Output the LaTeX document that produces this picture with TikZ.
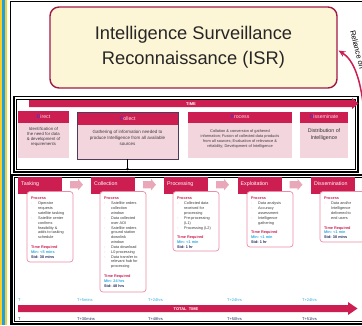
\documentclass[tikz,border=0pt]{standalone}
\usepackage{fontspec}
\setmainfont{Liberation Sans}
\usetikzlibrary{arrows.meta,calc}
\definecolor{crim}{RGB}{205,30,82}
\definecolor{crimd}{RGB}{160,25,70}
\definecolor{pinkbg}{RGB}{243,213,222}
\definecolor{pinkar}{RGB}{233,168,185}
\definecolor{pinkbd}{RGB}{236,140,168}
\definecolor{hdtxt}{RGB}{250,220,230}
\definecolor{cream}{RGB}{253,246,214}
\definecolor{cyanT}{RGB}{40,170,225}
\definecolor{navy}{RGB}{30,40,90}
\definecolor{txt}{RGB}{60,60,60}
\definecolor{purp}{RGB}{95,45,175}
\definecolor{ylw}{RGB}{250,205,40}
\definecolor{blu}{RGB}{30,160,230}
\definecolor{darkbd}{RGB}{80,60,90}
\newcommand\bu{\makebox[7pt][l]{\textcolor{pinkbd}{-}}}
\newcommand\cn{\hspace*{7pt}}
\newcommand\ptx[1]{\parbox[t]{44pt}{\raggedright\fontsize{3.8}{4.85}\selectfont\color{txt}#1}}
\newcommand\prc{{\color{crim}\bfseries Process}}
\newcommand\treq[2]{\\[4.85pt]{\color{crim}\bfseries Time Required}\\{\color{cyanT}\bfseries Min: #1}\\{\color{navy}\bfseries Std: #2}}
\newcommand\barr[2]{\fill[pinkar] (#1-6.5,#2-3.6) -- (#1+1.5,#2-3.6) -- (#1+1.5,#2-5.8) -- (#1+6.5,#2) -- (#1+1.5,#2+5.8) -- (#1+1.5,#2+3.6) -- (#1-6.5,#2+3.6) -- cycle;}
\begin{document}
\begin{tikzpicture}[x=1pt,y=-1pt,
  box/.style={anchor=north west, inner sep=0pt, outer sep=0pt},
  hdrT/.style={box, fill=crim, text=hdtxt, font=\fontsize{5.2}{6}\selectfont},
  bodyT/.style={box, fill=pinkbg},
  ttxt/.style={align=center, text=txt, inner sep=0pt},
  hdrB/.style={box, fill=crim, minimum width=44pt, minimum height=16.5pt},
  hlab/.style={anchor=west, text=white, inner sep=0pt, font=\fontsize{5.3}{6}\selectfont},
  bodyB/.style={box, fill=white, draw=pinkbd, line width=0.7pt, rounded corners=3pt, minimum width=46pt},
  btx/.style={anchor=base west, inner sep=0pt},
  tlab/.style={anchor=base west, inner sep=0pt, font=\fontsize{4}{5}\selectfont},
]
\useasboundingbox (0,0) rectangle (362,325);
% left stripes
\fill[ylw] (0,0) rectangle (7,325);
\fill[blu] (2,0) rectangle (4.5,325);
% outer frame
\draw[line width=1pt] (10,1.5) rectangle (372,324);
% ISR box
\node[box, fill=cream, draw=crimd, line width=1.4pt, rounded corners=9pt,
      minimum width=287pt, minimum height=81pt] (isr) at (50,7) {};
\node[align=center, inner sep=0pt, font=\fontsize{18.3}{25}\selectfont, text=black!85] (isrt) at (isr.center) {Intelligence Surveillance\\Reconnaissance (ISR)};
% reliance arrow
\coordinate (rs) at (364,112);
\draw[crim, line width=1.5pt, -{Stealth[length=7pt,width=6pt]}] (rs) .. controls (361,80) and (354,60) .. ($(isr.east)+(1.5,3)$);
\node[anchor=base west, rotate=-76, inner sep=0pt, font=\fontsize{7.5}{9}\selectfont] (rel) at (350,31) {Reliance on};
% top section frame
\draw[line width=1.3pt] (14,96.5) rectangle (358,172);
\draw[line width=0.6pt] (16.5,99) rectangle (355.5,169.5);
% TIME arrow
\fill[crim] (29,100) -- (352,100) -- (352,98) -- (358.5,103.5) -- (352,109) -- (352,107) -- (29,107) -- cycle;
\node[text=white, inner sep=0pt, font=\bfseries\fontsize{4}{5}\selectfont] (timet) at (191,103.7) {TIME};
% Direct
\node[hdrT, minimum width=51pt, minimum height=12pt] (dH) at (18,111) {\textcolor{purp}{\bfseries D}irect};
\node[bodyT, minimum width=51pt, minimum height=35pt] (dB) at (18,123) {};
\node[ttxt, font=\fontsize{4.3}{5}\selectfont] (dT) at (43.5,137.3) {Identification of\\the need for data\\\& development of\\requirements};
% Collect
\node[hdrT, minimum width=101pt, minimum height=13pt] (cH) at (77,112) {\textcolor{purp}{\bfseries C}ollect};
\node[bodyT, minimum width=101pt, minimum height=34pt] (cB) at (77,125) {};
\draw[darkbd, line width=0.8pt] (cH.north west) rectangle (cB.south east);
\node[ttxt, font=\fontsize{4.5}{6}\selectfont] (cT) at (127.5,137.8) {Gathering of information needed to\\produce Intelligence from all available\\sources};
\coordinate (cArr) at (127.5,170.5);
\draw[line width=0.4pt, -{Stealth[length=2.5pt,width=2.2pt]}] (cB.south) -- (cArr);
% Process
\node[hdrT, minimum width=104pt, minimum height=11pt] (pH) at (188,111.5) {\textcolor{purp}{\bfseries P}rocess};
\node[bodyT, minimum width=104pt, minimum height=35.5pt] (pB) at (188,122.5) {};
\node[ttxt, font=\fontsize{3.9}{5}\selectfont] (pT) at (240,139.3) {Collation \& conversion of gathered\\information; Fusion of collected data products\\from all sources; Evaluation of relevance \&\\reliability; Development of Intelligence};
% Disseminate
\node[hdrT, minimum width=48pt, minimum height=11pt] (sH) at (300,111.5) {\textcolor{purp}{\bfseries D}isseminate};
\node[bodyT, minimum width=48pt, minimum height=35.5pt] (sB) at (300,122.5) {};
\node[ttxt, font=\fontsize{5.3}{7}\selectfont, text=black!80] (sT) at (324,134.5) {Distribution of\\Intelligence};
% bottom section frame
\draw[line width=1.3pt] (12,175) rectangle (366,323.5);
\draw[line width=0.6pt] (14.5,177.5) rectangle (363.5,321);
% bottom headers
\node[hdrB] (h1) at (18,177) {};
\node[hdrB] (h2) at (91,177) {};
\node[hdrB] (h3) at (164,177) {};
\node[hdrB] (h4) at (237.5,177) {};
\node[hdrB] (h5) at (311,177) {};
\node[hlab] (l1) at ($(h1.north west)+(3,7)$) {Tasking};
\node[hlab] (l2) at ($(h2.north west)+(3,7)$) {Collection};
\node[hlab] (l3) at ($(h3.north west)+(3,7)$) {Processing};
\node[hlab] (l4) at ($(h4.north west)+(3,7)$) {Exploitation};
\node[hlab] (l5) at ($(h5.north west)+(3,7)$) {Dissemination};
\barr{76.5}{184.7}
\barr{149.5}{184.7}
\barr{222.5}{184.7}
\barr{296}{184.7}
% bottom bodies
\node[bodyB, minimum height=70.5pt] (b1) at (27,191.5) {};
\node[bodyB, minimum height=100.5pt] (b2) at (100,191.5) {};
\node[bodyB, minimum height=59.5pt] (b3) at (173,191.5) {};
\node[bodyB, minimum height=55.5pt] (b4) at (247,191.5) {};
\node[bodyB, minimum height=50.5pt] (b5) at (320,191.5) {};
\node[btx] (t1) at (31,197.3) {\ptx{\prc\\\bu Operator\\\cn requests\\\cn satellite tasking\\\bu Satellite center\\\cn confirms\\\cn feasibility \&\\\cn adds to tasking\\\cn schedule\treq{<5 mins}{30 mins}}};
\node[btx] (t2) at (104,197.3) {\ptx{\prc\\\bu Satellite orders\\\cn collection\\\cn window\\\bu Data collected\\\cn over AOI\\\bu Satellite orders\\\cn ground station\\\cn downlink\\\cn window\\\bu Data download\\\bu L0 processing\\\bu Data transfer to\\\cn relevant hub for\\\cn processing\treq{24 hrs}{48 hrs}}};
\node[btx] (t3) at (177,197.3) {\ptx{\prc\\\bu Collected data\\\cn received for\\\cn processing\\\bu Pre-processing\\\cn (L1)\\\bu Processing (L2)\treq{<1 min}{1 hr}}};
\node[btx] (t4) at (251,197.3) {\ptx{\prc\\\bu Data analysis\\\bu Accuracy\\\cn assessment\\\bu Intelligence\\\cn gathering\treq{<1 min}{1 hr}}};
\node[btx] (t5) at (324,197.3) {\ptx{\prc\\\bu Data and/or\\\cn Intelligence\\\cn delivered to\\\cn end users\treq{<1 min}{30 mins}}};
% time labels
\node[tlab, text=cyanT] (m0) at (18,301) {T};
\node[tlab, text=cyanT] (m1) at (77,301) {T+5mins};
\node[tlab, text=cyanT] (m2) at (148,301) {T+24hrs};
\node[tlab, text=cyanT] (m3) at (227,301) {T+24hrs};
\node[tlab, text=cyanT] (m4) at (302,301) {T+24hrs};
% TOTAL TIME arrow
\fill[crim] (18,305) -- (348,305) -- (348,302) -- (357.5,308.5) -- (348,315) -- (348,312) -- (18,312) -- cycle;
\node[text=white, inner sep=0pt, font=\bfseries\fontsize{4}{5}\selectfont] (tott) at (186,308.7) {TOTAL\ \ TIME};
\node[tlab, text=navy] (s0) at (18,320) {T};
\node[tlab, text=navy] (s1) at (77,320) {T+30mins};
\node[tlab, text=navy] (s2) at (148,320) {T+48hrs};
\node[tlab, text=navy] (s3) at (227,320) {T+50hrs};
\node[tlab, text=navy] (s4) at (302,320) {T+51hrs};
\end{tikzpicture}
\end{document}
